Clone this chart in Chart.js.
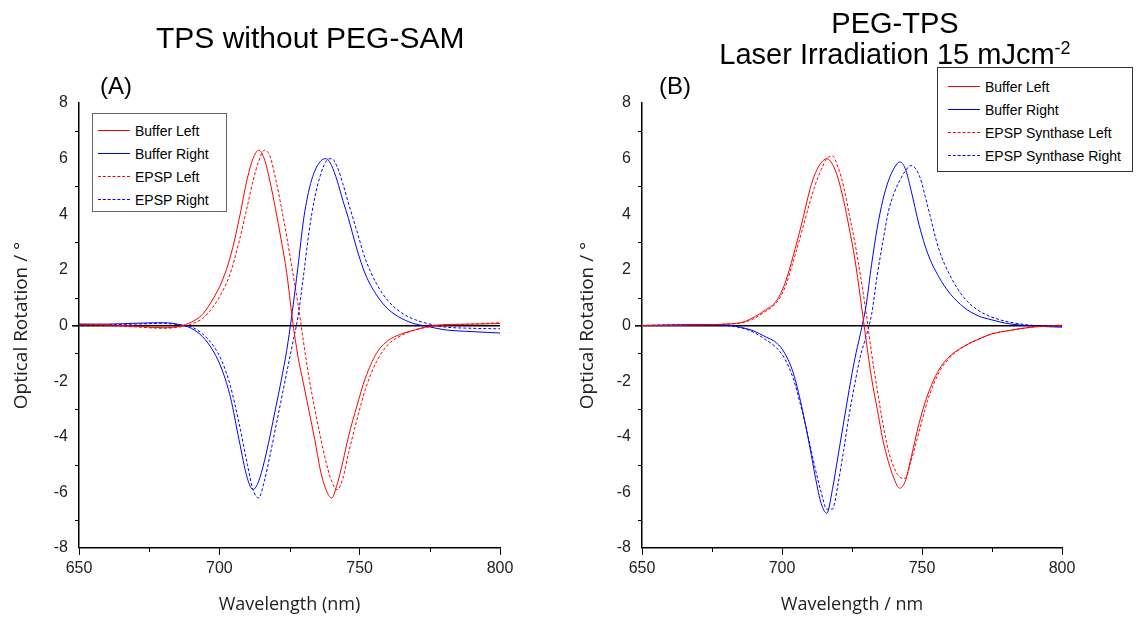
<!DOCTYPE html>
<html>
<head>
<meta charset="utf-8">
<script src="https://cdn.jsdelivr.net/npm/chart.js@4.4.1/dist/chart.umd.min.js"></script>
<style>
  body { margin: 0; background: #fff; }
  #wrap { position: relative; width: 1137px; height: 624px; overflow: hidden; font-family: 'Liberation Sans', Arial, sans-serif; }
  canvas { position: absolute; top: 0; }
  .title { position: absolute; color: #000; text-align: center; white-space: nowrap; line-height: 31px; }
  .panel { position: absolute; font-size: 24px; color: #000; }
  .legend { position: absolute; box-sizing: border-box; background: #fff; font-size: 14px; color: #000; }
  .legend .row { display: flex; align-items: center; height: 23px; }
  .legend .swatch { width: 32px; height: 0; margin-right: 5px; }
</style>
</head>
<body>
<div id="wrap">
  <canvas id="chartA" width="565" height="624" style="left:0"></canvas>
  <canvas id="chartB" width="572" height="624" style="left:565px"></canvas>
  <div class="title" style="left:156px;top:22px;width:300px;font-size:30px">TPS without PEG-SAM</div>
  <div class="title" style="left:695px;top:8px;width:400px;font-size:29px">PEG-TPS<br>Laser Irradiation 15 mJcm<sup style="font-size:18px;vertical-align:10px;line-height:0">-2</sup></div>
  <div class="panel" style="left:100px;top:72px">(A)</div>
  <div class="panel" style="left:659px;top:72px">(B)</div>
  <div class="legend" id="legendA" style="left:92px;top:113px;width:135px;height:99px;border:1px solid #666;padding:5px 0 0 5px"></div>
  <div class="legend" id="legendB" style="left:937px;top:67px;width:196px;height:105px;border:1px solid #333;padding:7px 0 0 10px"></div>
</div>
<script>
// wavelength grid (nm), shared by the series of each panel
const wavelengths = [650, 660, 670, 680, 686, 690, 694, 698, 701, 704, 707, 710, 712, 714, 716, 718, 720, 722, 724, 726,
  728, 730, 732, 734, 736, 738, 740, 742, 744, 746, 749, 752, 756, 760, 765, 770, 775, 780, 790, 800];

// Panel A - TPS without PEG-SAM
const aBufferLeft = [0.05, 0.02, -0.02, -0.08, -0.02, 0.12, 0.4, 1.0, 1.6, 2.5, 3.8, 5.3, 6.0, 6.3, 6.0, 5.2, 4.2, 3.1, 1.9, 0.25,
  -1.1, -2.1, -3.1, -4.1, -5.2, -5.9, -6.2, -5.7, -4.9, -4.0, -2.9, -1.9, -1.0, -0.55, -0.3, -0.15, -0.02, 0.03, 0.05, 0.07];
const aBufferRight = [0.05, 0.05, 0.08, 0.1, 0.03, -0.1, -0.4, -0.95, -1.6, -2.6, -4.1, -5.5, -5.9, -5.6, -4.9, -4.0, -3.0, -2.0, -0.9, 0.5,
  2.1, 3.8, 4.9, 5.55, 5.9, 6.0, 5.75, 5.2, 4.5, 3.85, 2.75, 1.85, 1.1, 0.6, 0.25, 0.05, -0.05, -0.15, -0.22, -0.27];
const aEpspLeft = [0.03, 0.0, -0.05, -0.1, -0.05, 0.05, 0.25, 0.7, 1.2, 1.9, 3.0, 4.3, 5.2, 5.9, 6.3, 6.1, 5.3, 4.3, 3.2, 2.0,
  0.8, -0.6, -1.9, -3.0, -4.0, -4.9, -5.6, -5.9, -5.5, -4.6, -3.4, -2.3, -1.3, -0.7, -0.35, -0.15, -0.05, 0.0, 0.05, 0.1];
const aEpspRight = [0.0, 0.03, 0.05, 0.08, 0.02, -0.05, -0.3, -0.75, -1.3, -2.2, -3.5, -5.0, -5.9, -6.2, -5.6, -4.7, -3.7, -2.7, -1.7, -0.7,
  0.3, 1.8, 3.4, 4.6, 5.4, 5.9, 6.0, 5.7, 5.1, 4.4, 3.4, 2.4, 1.5, 0.9, 0.45, 0.2, 0.05, -0.05, -0.1, -0.12];

// Panel B - PEG-TPS, laser irradiation 15 mJ/cm2
const bBufferLeft = [0.0, 0.0, 0.02, 0.05, 0.12, 0.3, 0.55, 0.88, 1.5, 2.5, 3.65, 4.9, 5.5, 5.85, 6.0, 5.8, 5.3, 4.5, 3.5, 2.4,
  1.0, -0.5, -1.9, -3.0, -4.1, -4.9, -5.5, -5.85, -5.6, -4.8, -3.5, -2.5, -1.6, -1.1, -0.75, -0.5, -0.3, -0.2, -0.05, 0.0];
const bBufferRight = [0.0, 0.02, 0.03, 0.02, -0.08, -0.2, -0.4, -0.62, -1.0, -1.7, -2.9, -4.4, -5.5, -6.4, -6.75, -5.9, -4.7, -3.5, -2.3, -1.2,
  -0.3, 0.7, 2.2, 3.5, 4.5, 5.2, 5.65, 5.88, 5.65, 4.9, 3.6, 2.6, 1.75, 1.15, 0.65, 0.35, 0.2, 0.08, -0.02, -0.06];
const bEpspLeft = [0.0, 0.0, 0.02, 0.05, 0.1, 0.25, 0.5, 0.82, 1.35, 2.3, 3.35, 4.45, 5.1, 5.6, 6.0, 6.1, 5.7, 5.0, 4.0, 3.0,
  1.8, 0.5, -1.0, -2.3, -3.5, -4.5, -5.1, -5.45, -5.5, -4.9, -3.8, -2.7, -1.7, -1.15, -0.75, -0.5, -0.3, -0.2, -0.05, 0.02];
const bEpspRight = [0.0, 0.02, 0.03, 0.0, -0.1, -0.25, -0.5, -0.8, -1.2, -1.9, -3.0, -4.3, -5.2, -6.0, -6.6, -6.6, -5.7, -4.5, -3.2, -2.1,
  -1.1, -0.4, 0.4, 1.8, 3.0, 4.1, 4.75, 5.2, 5.55, 5.75, 5.4, 4.3, 2.75, 1.8, 1.0, 0.55, 0.3, 0.15, 0.0, -0.03];

const labelsA = ['Buffer Left', 'Buffer Right', 'EPSP Left', 'EPSP Right'];
const labelsB = ['Buffer Left', 'Buffer Right', 'EPSP Synthase Left', 'EPSP Synthase Right'];

// axis ticks
const xMinor = [675, 725, 775];
const yMinor = [-7, -5, -3, -1, 1, 3, 5, 7];

const RED = 'rgb(255,0,0)';
const BLUE = 'rgb(0,0,255)';
const styles = [
  { color: RED, dash: [] },
  { color: BLUE, dash: [] },
  { color: RED, dash: [3, 2] },
  { color: BLUE, dash: [3, 2] }
];

// short minor ticks, drawn outside the plot
const minorTicks = {
  id: 'minorTicks',
  afterDraw(chart) {
    const { ctx, scales: { x, y } } = chart;
    ctx.save();
    ctx.strokeStyle = '#000';
    ctx.lineWidth = 1;
    ctx.beginPath();
    xMinor.forEach(v => {
      const px = Math.round(x.getPixelForValue(v)) + 0.5;
      ctx.moveTo(px, x.top); ctx.lineTo(px, x.top + 4);
    });
    yMinor.forEach(v => {
      const py = Math.round(y.getPixelForValue(v)) + 0.5;
      ctx.moveTo(y.right - 4, py); ctx.lineTo(y.right, py);
    });
    ctx.stroke();
    ctx.restore();
  }
};

function makeChart(id, series, labels, opt) {
  const datasets = series.map((vals, i) => ({
    label: labels[i],
    data: wavelengths.map((w, k) => ({ x: w, y: vals[k] })),
    borderColor: styles[i].color,
    borderDash: styles[i].dash,
    borderWidth: 1,
    pointRadius: 0,
    cubicInterpolationMode: 'monotone',
    fill: false
  }));
  const tickFont = { family: "'Liberation Sans', Arial, sans-serif", size: 16 };
  const titleFont = { family: "'Open Sans', sans-serif", size: 18 };
  return new Chart(document.getElementById(id), {
    type: 'line',
    data: { datasets },
    options: {
      responsive: false,
      animation: false,
      layout: { padding: { left: 0, top: 103, right: opt.padRight, bottom: 0 } },
      plugins: { legend: { display: false }, tooltip: { enabled: false } },
      scales: {
        x: {
          type: 'linear', min: 650, max: 800,
          ticks: { stepSize: 50, color: '#222', font: tickFont, padding: 4, maxRotation: 0 },
          grid: { drawOnChartArea: false, tickLength: 7, tickColor: '#000' },
          border: { color: '#000', width: 1.5 },
          title: { display: true, text: opt.xTitle, color: '#222', font: titleFont, padding: { top: 0, bottom: 8 } },
          afterFit(s) { s.height = 76; }
        },
        y: {
          min: -8, max: 8,
          ticks: { stepSize: 2, color: '#222', font: tickFont, padding: 4 },
          grid: {
            drawOnChartArea: true,
            tickLength: 7,
            tickColor: '#000',
            color: c => (c.tick && c.tick.value === 0 ? '#000' : 'rgba(0,0,0,0)'),
            lineWidth: c => (c.tick && c.tick.value === 0 ? 1.6 : 0)
          },
          border: { color: '#000', width: 1.5 },
          title: { display: true, text: 'Optical Rotation / °', color: '#222', font: { family: "'Open Sans', sans-serif", size: 19 }, padding: { top: opt.yTitlePad, bottom: 0 } },
          afterFit(s) { s.width = opt.yWidth; }
        }
      }
    },
    plugins: [minorTicks]
  });
}

function buildLegend(el, labels) {
  el.innerHTML = labels.map((l, i) =>
    `<div class="row"><span class="swatch" style="border-top:1px ${styles[i].dash.length ? 'dashed' : 'solid'} ${styles[i].color}"></span>${l}</div>`
  ).join('');
}

makeChart('chartA', [aBufferLeft, aBufferRight, aEpspLeft, aEpspRight], labelsA,
  { padRight: 65, yWidth: 79, yTitlePad: 10, xTitle: 'Wavelength (nm)' });
makeChart('chartB', [bBufferLeft, bBufferRight, bEpspLeft, bEpspRight], labelsB,
  { padRight: 75, yWidth: 77, yTitlePad: 11, xTitle: 'Wavelength / nm' });
buildLegend(document.getElementById('legendA'), labelsA);
buildLegend(document.getElementById('legendB'), labelsB);
</script>
</body>
</html>
